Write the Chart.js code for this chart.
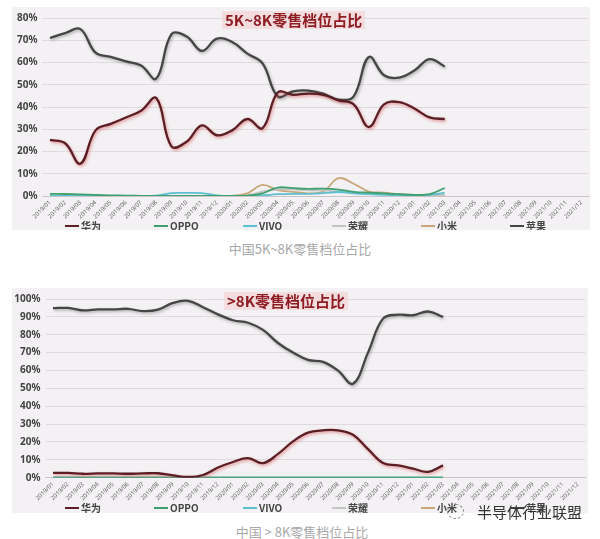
<!DOCTYPE html>
<html><head><meta charset="utf-8">
<script src="https://cdn.jsdelivr.net/npm/chart.js@4"></script>
<style>
body{margin:0;width:600px;height:539px;background:#fff;position:relative;overflow:hidden;font-family:"Noto Sans CJK SC","Noto Sans",sans-serif;}
.panel{position:absolute;background:#f3f1f3;}
#p1{left:12px;top:7px;width:578px;height:223px;}
#p2{left:12px;top:288px;width:576px;height:225px;}
.ttl{position:absolute;font-weight:bold;color:#8e1c22;font-size:15px;line-height:18px;background:rgba(243,214,216,0.75);padding:0 3px;white-space:nowrap;}
.cap{position:absolute;left:0;width:600px;text-align:center;color:#a8a8a8;font-size:13px;white-space:nowrap;}
.wm{position:absolute;left:477px;top:501px;font-size:15px;color:#333;white-space:nowrap;}
.wmi{position:absolute;left:447px;top:504px;width:15px;height:13px;border:1px dashed #888;border-radius:50%;}
</style></head>
<body>
<div class="panel" id="p1"><canvas id="c1" width="578" height="223"></canvas></div>
<div class="panel" id="p2"><canvas id="c2" width="576" height="225"></canvas></div>
<div class="ttl" style="left:222px;top:11px;">5K~8K零售档位占比</div>
<div class="ttl" style="left:224px;top:292px;">&gt;8K零售档位占比</div>
<div class="cap" style="top:239px;">中国5K~8K零售档位占比</div>
<div class="cap" style="top:522px;left:2px;">中国 &gt; 8K零售档位占比</div>
<div class="wmi"></div>
<div class="wm">半导体行业联盟</div>
<script>
const months = ["2019/01","2019/02","2019/03","2019/04","2019/05","2019/06","2019/07","2019/08","2019/09","2019/10","2019/11","2019/12",
"2020/01","2020/02","2020/03","2020/04","2020/05","2020/06","2020/07","2020/08","2020/09","2020/10","2020/11","2020/12",
"2021/01","2021/02","2021/03","2021/04","2021/05","2021/06","2021/07","2021/08","2021/09","2021/10","2021/11","2021/12"];
const seriesNames = ["华为","OPPO","VIVO","荣耀","小米","苹果"];
const seriesColors = ["#5b1e24","#3f9f6f","#5bbfcf","#c4c4c4","#c9a77a","#454545"];

// 5K~8K
const mid_huawei = [25.2,23.7,14.5,29.5,32.4,35.3,38.3,44,22.3,24.4,31.7,27.3,29.5,34.6,30.5,46.5,45.5,46,45.5,43,41.2,31,41.2,42.2,39.3,35.3,34.6];
const mid_oppo   = [1,0.9,0.7,0.5,0.3,0.2,0.1,0.1,0.1,0.1,0.1,0.1,0.1,0.2,1.2,3.8,3.5,3.2,3.3,2.9,1.9,1.5,1.2,0.8,0.5,0.8,3.6];
const mid_vivo   = [0,0,0,0,0,0,0,0.2,1.3,1.4,1.3,0.3,0,0,0.3,0.8,1,1,1.3,1.8,1.2,0.8,0.5,0.3,0.3,0.5,1.5];
const mid_honor  = [0,0,0,0,0,0,0,0,0,0,0,0,0,0.3,2,3,3,2.5,2.5,2,1.5,1.2,1,0.8,0.5,0.5,0.5];
const mid_xiaomi = [0,0,0,0,0,0,0,0,0,0,0,0,0.1,1.2,5,2.6,1.9,1.2,2,8,5.5,2,1.5,0.7,0.5,0.5,0.5];
const mid_apple  = [71,73.2,75,64.4,62.5,60.5,58.6,52.8,72.7,71.7,65.2,70.7,69.2,64,59.6,44.8,47,47.4,46,43.3,44.8,62.5,54.3,53.2,56.4,61.5,58.2];

// >8K
const high_huawei = [2.7,2.7,2.2,2.4,2.4,2.2,2.4,2.5,1.3,0.4,1.5,5.7,8.8,11,8.2,13.3,20.3,25.2,26.5,26.5,24,16,8.2,6.9,5.1,3.3,6.9];
const high_oppo   = [0,0,0,0,0,0,0,0,0,0,0,0,0,0,0,0,0,0,0,0,0,0,0,0,0,0,0];
const high_vivo   = [0,0,0,0,0,0,0,0,0,0,0,0,0,0,0,0,0,0,0,0,0,0,0,0,0,0,0];
const high_honor  = [0,0,0,0,0,0,0,0,0,0,0,0,0,0,0,0,0,0,0,0,0,0,0,0,0,0,0];
const high_xiaomi = [0,0,0,0,0,0,0,0,0,0,0,0,0,0,0,0,0,0,0,0,0,0,0,0,0,0,0];
const high_apple  = [94.9,95,93.6,94.2,94.2,94.5,93.2,94,97.8,99,95.4,91.4,88.1,86.7,82.7,75.4,70,65.9,64.8,59.9,52.6,70,89,91.2,90.9,93,90];

const shadows = ["rgba(215,70,70,0.55)",null,null,null,null,"rgba(0,0,0,0.3)"];
const widths = [2.3,1.8,1.8,1.8,1.8,2.3];

const shadowPlugin = {
  id:'lineShadow',
  beforeDatasetDraw(chart,args){
    const ds = chart.data.datasets[args.index];
    chart.ctx.save();
    if (ds.shadow){ chart.ctx.shadowColor = ds.shadow; chart.ctx.shadowBlur = 3; chart.ctx.shadowOffsetX = 1; chart.ctx.shadowOffsetY = 1.5; }
  },
  afterDatasetDraw(chart){ chart.ctx.restore(); }
};
const legendPlugin = {
  id:'customLegend',
  afterDraw(chart,args,opts){
    const ctx = chart.ctx; ctx.save();
    chart.data.datasets.forEach((ds,i)=>{
      const x = opts.x0 + i*opts.step, y = opts.y;
      ctx.strokeStyle = ds.borderColor; ctx.lineWidth = 2;
      ctx.beginPath(); ctx.moveTo(x,y); ctx.lineTo(x+14,y); ctx.stroke();
      ctx.fillStyle = '#444'; ctx.font = 'bold 10px "Noto Sans CJK SC"'; ctx.textBaseline = 'middle';
      ctx.fillText(ds.label, x+16, y);
    });
    ctx.restore();
  }
};

function makeChart(id, arrays, ymax, yW, xH, pad, legendY){
  const datasets = arrays.map((arr,i)=>({
    label: seriesNames[i], data: arr, borderColor: seriesColors[i], backgroundColor: seriesColors[i],
    borderWidth: widths[i], pointRadius: 0, tension: 0.4, fill: false, shadow: shadows[i]
  }));
  return new Chart(document.getElementById(id), {
    type: 'line',
    data: { labels: months, datasets },
    options: {
      responsive: false, animation: false,
      layout: { padding: pad },
      plugins: { legend: { display: false }, tooltip: { enabled: false },
        customLegend: { x0: 53, step: 89, y: legendY } },
      scales: {
        x: { offset: true, grid: { display: false, drawTicks: false }, border: { color: '#c8c4c8' },
             ticks: { autoSkip: false, minRotation: 45, maxRotation: 45, padding: 3, color: '#666', font: { size: 6, family: 'Noto Sans' } },
             afterFit(s){ s.height = xH; } },
        y: { min: 0, max: ymax, grid: { color: '#dedade', drawTicks: false }, border: { display: false },
             ticks: { stepSize: 10, padding: 5, color: '#444', font: { size: 10, weight: 'bold', family: 'Noto Sans' }, callback: v => v + '%' },
             afterFit(s){ s.width = yW; } }
      }
    },
    plugins: [shadowPlugin, legendPlugin]
  });
}
makeChart('c1', [mid_huawei,mid_oppo,mid_vivo,mid_honor,mid_xiaomi,mid_apple], 80, 30.4, 34, {top:6,right:1,left:0,bottom:0}, 219);
makeChart('c2', [high_huawei,high_oppo,high_vivo,high_honor,high_xiaomi,high_apple], 100, 33.5, 35.3, {top:7,right:2.5,left:0,bottom:0}, 220);
</script>
</body></html>
